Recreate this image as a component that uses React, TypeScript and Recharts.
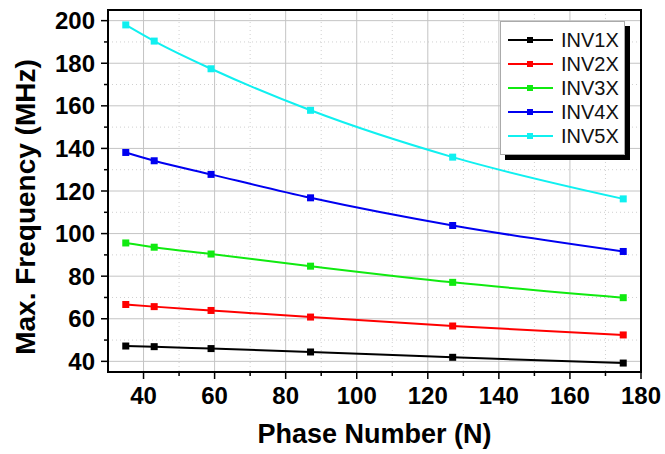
import React from 'react';
import { LineChart, Line, XAxis, YAxis, CartesianGrid, ReferenceArea, Legend, Label } from 'recharts';

const phaseNumbers = [35, 43, 59, 87, 127, 175];
const inv1x = [47.2, 46.9, 46.0, 44.4, 41.9, 39.2];
const inv2x = [66.7, 65.7, 63.9, 60.8, 56.6, 52.4];
const inv3x = [95.6, 93.6, 90.4, 84.7, 77.1, 69.9];
const inv4x = [138.1, 134.2, 127.8, 116.8, 103.8, 91.6];
const inv5x = [198.0, 190.4, 177.4, 157.9, 135.9, 116.3];

const seriesNames = ['INV1X', 'INV2X', 'INV3X', 'INV4X', 'INV5X'];
const seriesValues = [inv1x, inv2x, inv3x, inv4x, inv5x];
const seriesColors = ['#000000', '#ff0000', '#10ea10', '#0000f0', '#10f0f0'];

const xTicks = [40, 50, 60, 70, 80, 90, 100, 110, 120, 130, 140, 150, 160, 170, 180];
const xMajorTicks = [40, 60, 80, 100, 120, 140, 160];
const xMinorTicks = [50, 70, 90, 110, 130, 150, 170];
const yTicks = [40, 50, 60, 70, 80, 90, 100, 110, 120, 130, 140, 150, 160, 170, 180, 190, 200];
const yMajorTicks = [40, 60, 80, 100, 120, 140, 160, 180, 200];
const yMinorTicks = [50, 70, 90, 110, 130, 150, 170, 190];

const data = phaseNumbers.map((n, i) => {
  const row: Record<string, number> = { n };
  seriesNames.forEach((name, s) => {
    row[name] = seriesValues[s][i];
  });
  return row;
});

const FONT = '"Liberation Sans", Arial, sans-serif';

const XTick = (props: any) => {
  const { x, y, payload } = props;
  const v = payload.value;
  const major = v % 20 === 0;
  return (
    <g>
      <line x1={x} x2={x} y1={y} y2={y + (major ? 7 : 4)} stroke="#000" strokeWidth={1.5} />
      {major && (
        <text x={x} y={y + 32} textAnchor="middle" fontSize={24} fontWeight="bold" fontFamily={FONT} fill="#000">
          {v}
        </text>
      )}
    </g>
  );
};

const YTick = (props: any) => {
  const { x, y, payload } = props;
  const v = payload.value;
  const major = v % 20 === 0;
  return (
    <g>
      <line x1={x - (major ? 7 : 4)} x2={x} y1={y} y2={y} stroke="#000" strokeWidth={1.5} />
      {major && (
        <text x={x - 13} y={y + 8.5} textAnchor="end" fontSize={24} fontWeight="bold" fontFamily={FONT} fill="#000">
          {v}
        </text>
      )}
    </g>
  );
};

const makeDot = (color: string) => (props: any) => {
  const { cx, cy, index } = props;
  return <rect key={`d-${color}-${index}`} x={cx - 3.5} y={cy - 3.5} width={7} height={7} fill={color} />;
};

const LegendBox = () => (
  <div
    style={{
      width: 123,
      height: 120,
      border: '1px solid #aaa',
      background: '#fff',
      boxShadow: '5px 5px 0 #000',
      padding: '6px 0',
      boxSizing: 'content-box',
      fontFamily: FONT,
    }}
  >
    {seriesNames.map((name, i) => (
      <div key={name} style={{ height: 24, display: 'flex', alignItems: 'center' }}>
        <svg width={60} height={24} style={{ display: 'block' }}>
          <line x1={7} x2={52} y1={12} y2={12} stroke={seriesColors[i]} strokeWidth={2} />
          <rect x={26} y={9} width={6} height={6} fill={seriesColors[i]} />
        </svg>
        <span style={{ fontSize: 20, color: '#111', lineHeight: '24px' }}>{name}</span>
      </div>
    ))}
  </div>
);

export default function App() {
  return (
    <div style={{ position: 'absolute', left: 0, top: 0, width: 665, height: 454, background: '#fff' }}>
      <LineChart width={665} height={454} data={data} margin={{ top: 10, right: 24, bottom: 0, left: 0 }}>
        <CartesianGrid
          horizontalValues={yMinorTicks}
          verticalValues={xMinorTicks}
          stroke="#d0d0d0"
          strokeDasharray="1 3"
        />
        <CartesianGrid
          horizontalValues={yMajorTicks}
          verticalValues={xMajorTicks}
          stroke="#c4c4c4"
          strokeWidth={1}
        />
        <XAxis
          dataKey="n"
          type="number"
          domain={[30, 180]}
          ticks={xTicks}
          interval={0}
          height={82}
          tickSize={0}
          tickMargin={0}
          tickLine={false}
          tick={<XTick />}
          axisLine={{ stroke: '#000', strokeWidth: 2 }}
          allowDataOverflow
        >
          <Label
            value="Phase Number (N)"
            position="insideBottom"
            offset={11}
            style={{ fontSize: 27, fontWeight: 'bold', fontFamily: FONT, fill: '#000' }}
          />
        </XAxis>
        <YAxis
          type="number"
          domain={[35, 205]}
          ticks={yTicks}
          interval={0}
          width={108}
          tickSize={0}
          tickMargin={0}
          tickLine={false}
          tick={<YTick />}
          axisLine={{ stroke: '#000', strokeWidth: 2 }}
          allowDataOverflow
        >
          <Label
            content={() => (
              <text
                transform="translate(35, 207) rotate(-90)"
                textAnchor="middle"
                fontSize={28}
                fontWeight="bold"
                fontFamily={FONT}
                fill="#000"
              >
                Max. Frequency (MHz)
              </text>
            )}
          />
        </YAxis>
        <ReferenceArea x1={30} x2={180} y1={35} y2={205} fill="none" stroke="#000" strokeWidth={2} ifOverflow="visible" />
        {seriesNames.map((name, i) => (
          <Line
            key={name}
            type="monotone"
            dataKey={name}
            stroke={seriesColors[i]}
            strokeWidth={2}
            dot={makeDot(seriesColors[i])}
            activeDot={false}
            isAnimationActive={false}
          />
        ))}
        <Legend
          layout="vertical"
          align="center"
          verticalAlign="middle"
          content={() => <LegendBox />}
          wrapperStyle={{ left: 500, top: 21, width: 125, height: 140 }}
        />
      </LineChart>
    </div>
  );
}
